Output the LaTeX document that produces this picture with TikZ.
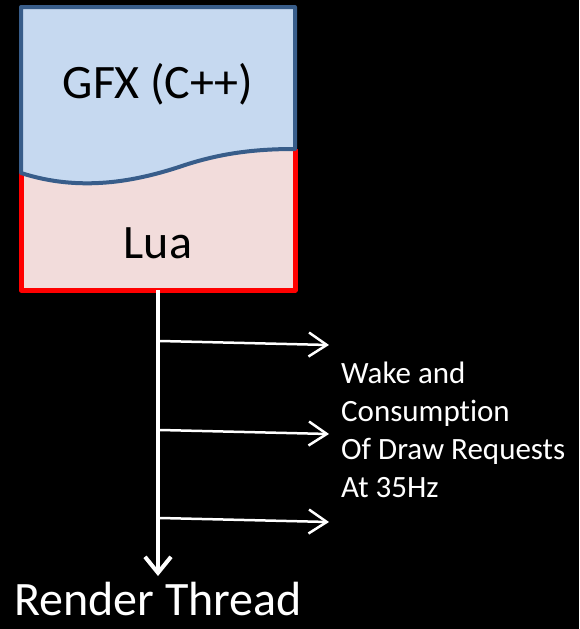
\documentclass[tikz,border=0pt]{standalone}
\usepackage{fontspec}
\setmainfont[Ligatures=NoCommon]{Carlito}
\usetikzlibrary{arrows.meta}
\definecolor{gfxfill}{RGB}{198,217,240}
\definecolor{gfxline}{RGB}{56,93,138}
\definecolor{luafill}{RGB}{242,220,219}
\definecolor{lualine}{RGB}{255,0,0}
\tikzset{
	bigtext/.style={font=\fontsize{48}{54}\selectfont, inner sep=0pt},
	smalltext/.style={font=\fontsize{31}{38}\selectfont, text=white, inner sep=0pt, align=left},
	wake/.style={white, line width=2.5pt, -{Straight Barb[length=18pt, width=24pt, line width=2.5pt]}},
	thread/.style={white, line width=4pt, -{Straight Barb[length=16pt, width=26pt, line width=4pt]}}
}
\begin{document}
\begin{tikzpicture}[x=1pt, y=-1pt]
	\useasboundingbox[fill=black] (0,0) rectangle (579,629);
	% Lua unten
	\fill[luafill] (21,173) .. controls (80,192) and (135,182) .. (185,165)
		.. controls (225,152) and (260,149) .. (295,149) -- (295,290) -- (21,290) -- cycle;
	\draw[lualine, line width=5pt, line join=round] (21,173) -- (21,290) -- (295,290) -- (295,149);
	% GFX oben
	\filldraw[fill=gfxfill, draw=gfxline, line width=4pt, line join=round] (21,173)
		.. controls (80,192) and (135,182) .. (185,165)
		.. controls (225,152) and (260,149) .. (295,149) -- (295,7) -- (21,7) -- cycle;
	\node[bigtext] (gfx) at (158,84) {GFX (C++)};
	\node[bigtext] (lua) at (158,243) {Lua};

	% Render Thread
	\coordinate (threadtop) at (158,290);
	\coordinate (threadend) at (158,576);
	\draw[thread] (threadtop) -- (threadend);
	\node[bigtext, text=white, anchor=north, yshift=-6pt] (render) at (threadend) {Render Thread};

	% Wake
	\coordinate (t1) at (160,341);
	\coordinate (w1) at (329,345);
	\coordinate (t2) at (160,430);
	\coordinate (w2) at (329,434);
	\coordinate (t3) at (160,518);
	\coordinate (w3) at (329,522);
	\draw[wake] (t1) -- (w1);
	\draw[wake] (t2) -- (w2);
	\draw[wake] (t3) -- (w3);
	\node[smalltext, anchor=north west] (wakelabel) at (341,362)
		{Wake and\\Consumption\\Of Draw Requests\\At 35Hz};
\end{tikzpicture}
\end{document}
